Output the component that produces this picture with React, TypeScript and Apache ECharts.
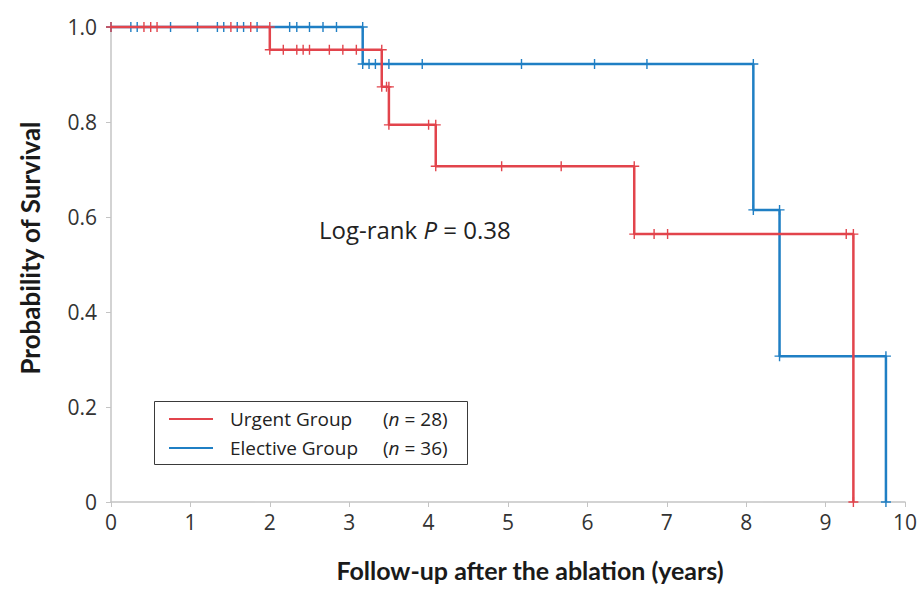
import React, { useEffect, useRef } from "react";
import * as echarts from "echarts";

// Urgent group (n = 28)
const urgentEventTimes = [2.0, 3.41, 3.5, 4.09, 6.59, 9.35];
const urgentEventSurv = [0.952, 0.874, 0.794, 0.707, 0.564, 0.0];
const urgentCensorTimes = [0.415, 0.5, 0.58, 1.51, 1.76, 2.17, 2.34, 2.42, 2.5, 2.75, 2.92, 3.09, 3.47, 4.0, 4.92, 5.67, 6.84, 7.01, 9.26];

// Elective group (n = 36)
const electiveEventTimes = [3.17, 8.09, 8.42, 9.76];
const electiveEventSurv = [0.922, 0.615, 0.307, 0.0];
const electiveCensorTimes = [0.25, 0.33, 0.75, 1.09, 1.34, 1.42, 1.59, 1.67, 1.84, 2.25, 2.34, 2.5, 2.67, 2.84, 3.25, 3.33, 3.5, 3.92, 5.17, 6.09, 6.75];

const xTicks = [0, 1, 2, 3, 4, 5, 6, 7, 8, 9, 10];
const yTicks = [0, 0.2, 0.4, 0.6, 0.8, 1.0];

const RED = "#E2444C";
const BLUE = "#1F7FC4";

function buildSteps(eventTimes: number[], eventSurv: number[], censorTimes: number[]) {
  const items: { t: number; kind: "e" | "c"; s?: number }[] = [];
  eventTimes.forEach((t, i) => items.push({ t, kind: "e", s: eventSurv[i] }));
  censorTimes.forEach((t) => items.push({ t, kind: "c" }));
  items.sort((a, b) => a.t - b.t);
  let s = 1.0;
  const pts: number[][] = [[0, 1.0]];
  for (const it of items) {
    if (it.kind === "c") {
      pts.push([it.t, s]);
    } else {
      pts.push([it.t, s]);
      s = it.s as number;
      pts.push([it.t, s]);
    }
  }
  return pts;
}

const PLUS = "path://M5,0L5,10M0,5L10,5";

export default function App() {
  const ref = useRef<HTMLDivElement>(null);
  useEffect(() => {
    if (!ref.current) return;
    const chart = echarts.init(ref.current, undefined, { renderer: "svg" });
    const mkSeries = (name: string, color: string, data: number[][], z: number) => ({
      name,
      type: "line",
      data,
      symbol: PLUS,
      symbolSize: 10,
      showSymbol: true,
      clip: false,
      z,
      lineStyle: { color, width: 2.5 },
      itemStyle: { color, borderColor: color, borderWidth: 1.4 },
    });
    const richSmall = (size: number) => ({
      a: { fontFamily: "Open Sans", fontSize: size, fill: "#222" },
      i: { fontFamily: "Open Sans", fontSize: size, fontStyle: "italic", fill: "#222" },
    });
    chart.setOption({
      animation: false,
      backgroundColor: "#ffffff",
      grid: { left: 111, right: 14, top: 27, bottom: 87 },
      xAxis: {
        type: "value",
        min: 0,
        max: 10,
        interval: 1,
        axisLine: { show: true, lineStyle: { color: "#C4C4C4", width: 1.5 } },
        axisTick: { show: true, length: 5, lineStyle: { color: "#C4C4C4" } },
        splitLine: { show: false },
        axisLabel: {
          margin: 9,
          color: "#333",
          fontSize: 21,
          fontFamily: "Open Sans",
          formatter: (v: number) => (xTicks.includes(v) ? String(v) : ""),
        },
      },
      yAxis: {
        type: "value",
        min: 0,
        max: 1,
        interval: 0.2,
        axisLine: { show: true, lineStyle: { color: "#C4C4C4", width: 1.5 } },
        axisTick: { show: true, length: 5, lineStyle: { color: "#C4C4C4" } },
        splitLine: { show: false },
        axisLabel: {
          margin: 14,
          color: "#333",
          fontSize: 21,
          fontFamily: "Open Sans",
          formatter: (v: number) => {
            const m = yTicks.find((t) => Math.abs(t - v) < 1e-6);
            if (m === undefined) return "";
            return m === 0 ? "0" : m.toFixed(1);
          },
        },
      },
      series: [
        mkSeries("Elective Group", BLUE, buildSteps(electiveEventTimes, electiveEventSurv, electiveCensorTimes), 2),
        mkSeries("Urgent Group", RED, buildSteps(urgentEventTimes, urgentEventSurv, urgentCensorTimes), 3),
      ],
      graphic: [
        {
          type: "text",
          x: 30,
          y: 248,
          rotation: Math.PI / 2,
          style: {
            text: "Probability of Survival",
            fontFamily: "Lato",
            fontWeight: "bold",
            fontSize: 26,
            fill: "#1a1a1a",
            align: "center",
            verticalAlign: "middle",
          },
        },
        {
          type: "text",
          x: 530,
          y: 570,
          style: {
            text: "Follow-up after the ablation (years)",
            fontFamily: "Lato",
            fontWeight: "bold",
            fontSize: 25,
            fill: "#1a1a1a",
            align: "center",
            verticalAlign: "middle",
          },
        },
        {
          type: "text",
          x: 319,
          y: 229,
          style: {
            text: "{a|Log-rank }{i|P}{a| = 0.38}",
            rich: richSmall(24),
            verticalAlign: "middle",
          },
        },
        {
          type: "rect",
          shape: { x: 154.5, y: 401.5, width: 313, height: 63 },
          style: { fill: "#fff", stroke: "#3a3a3a", lineWidth: 1 },
          z: 10,
        },
        {
          type: "line",
          shape: { x1: 169, y1: 419, x2: 213, y2: 419 },
          style: { stroke: RED, lineWidth: 2 },
          z: 11,
        },
        {
          type: "line",
          shape: { x1: 169, y1: 448, x2: 213, y2: 448 },
          style: { stroke: BLUE, lineWidth: 2 },
          z: 11,
        },
        {
          type: "text",
          x: 230,
          y: 419,
          z: 11,
          style: { text: "Urgent Group", fontFamily: "Open Sans", fontSize: 19, fill: "#222", verticalAlign: "middle" },
        },
        {
          type: "text",
          x: 230,
          y: 448,
          z: 11,
          style: { text: "Elective Group", fontFamily: "Open Sans", fontSize: 19, fill: "#222", verticalAlign: "middle" },
        },
        {
          type: "text",
          x: 383,
          y: 419,
          z: 11,
          style: { text: "{a|(}{i|n}{a| = 28)}", rich: richSmall(19), verticalAlign: "middle" },
        },
        {
          type: "text",
          x: 383,
          y: 448,
          z: 11,
          style: { text: "{a|(}{i|n}{a| = 36)}", rich: richSmall(19), verticalAlign: "middle" },
        },
      ],
    });
    return () => chart.dispose();
  }, []);
  return (
    <div
      ref={ref}
      style={{ position: "fixed", left: 0, top: 0, width: 920, height: 589, background: "#fff" }}
    />
  );
}
